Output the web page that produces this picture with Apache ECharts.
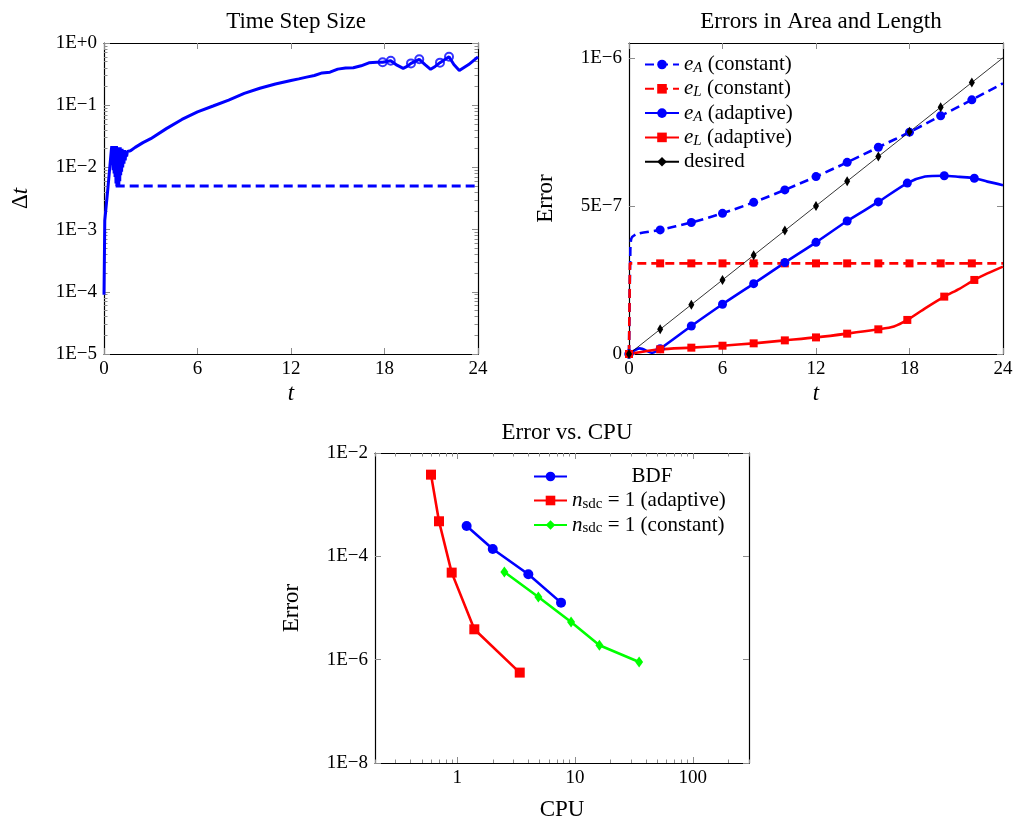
<!DOCTYPE html>
<html><head><meta charset="utf-8">
<script src="https://cdn.jsdelivr.net/npm/echarts@6/dist/echarts.min.js"></script>
<style>html,body{margin:0;padding:0;background:#fff}#c{width:1017px;height:823px}</style>
</head><body><div id="c"></div>
<script>
// ================= DATA =================
// Panel 1: time step size
const dtAdaptive = [[0,9e-5],[0.05,1.4e-3],[0.26,4.9e-3],[0.47,0.019],[0.50,0.022],[0.53,0.011],[0.56,0.022],[0.59,0.009],[0.62,0.022],[0.65,0.008],[0.68,0.022],[0.71,0.007],[0.74,0.022],[0.77,0.0055],[0.80,0.022],[0.83,0.005],[0.86,0.021],[0.89,0.005],[0.92,0.021],[0.95,0.0052],[0.98,0.021],[1.01,0.006],[1.04,0.021],[1.07,0.0075],[1.10,0.020],[1.13,0.0085],[1.16,0.020],[1.20,0.010],[1.24,0.019],[1.28,0.0115],[1.32,0.019],[1.36,0.013],[1.40,0.018],[1.45,0.015],[1.50,0.018],[1.55,0.0172],[1.7,0.0185],[2.0,0.021],[2.5,0.025],[3,0.029],[4,0.042],[5,0.059],[6,0.078],[7,0.097],[8,0.121],[9,0.155],[10,0.187],[11,0.219],[12,0.25],[12.5,0.265],[13,0.283],[13.5,0.30],[14,0.33],[14.5,0.34],[15,0.38],[15.5,0.395],[16,0.40],[16.5,0.43],[17,0.48],[17.5,0.49],[17.88,0.49],[18.4,0.52],[18.8,0.44],[19.2,0.39],[19.45,0.42],[19.7,0.47],[20.23,0.547],[20.6,0.45],[20.96,0.378],[21.25,0.42],[21.56,0.483],[22.14,0.60],[22.45,0.45],[22.8,0.36],[23.4,0.45],[24,0.60]];
const dtConstant = [[0.75,0.005],[24,0.005]];
const dtLoops = [[17.88,0.49],[18.4,0.52],[19.7,0.47],[20.23,0.547],[21.56,0.483],[22.14,0.60]];

// Panel 2: errors in area and length
const eAConst = [[0,0],[0.08,3.3e-7],[0.15,3.9e-7],[0.5,4.05e-7],[2,4.19e-7],[4,4.44e-7],[6,4.75e-7],[8,5.12e-7],[10,5.54e-7],[12,5.99e-7],[14,6.47e-7],[16,6.98e-7],[18,7.49e-7],[20,8.04e-7],[22,8.58e-7],[24,9.14e-7]];
const eLConst = [[0,0],[0.06,3.06e-7],[2,3.06e-7],[4,3.06e-7],[6,3.06e-7],[8,3.06e-7],[10,3.06e-7],[12,3.06e-7],[14,3.06e-7],[16,3.06e-7],[18,3.06e-7],[20,3.06e-7],[22,3.06e-7],[24,3.06e-7]];
const eAAdapt = [[0,0],[0.7,1.9e-8],[1.5,4e-9],[2,1.8e-8],[4,9.46e-8],[6,1.68e-7],[8,2.376e-7],[10,3.086e-7],[12,3.77e-7],[14,4.49e-7],[16,5.135e-7],[17.86,5.77e-7],[19,5.99e-7],[20.23,6.02e-7],[21.2,5.98e-7],[22.16,5.935e-7],[23,5.82e-7],[24,5.70e-7]];
const eLAdapt = [[0,0],[2,1.58e-8],[4,2.14e-8],[6,2.8e-8],[8,3.6e-8],[10,4.6e-8],[12,5.6e-8],[14,6.87e-8],[16,8.33e-8],[17,9.3e-8],[17.86,1.15e-7],[19,1.54e-7],[20.23,1.937e-7],[21.2,2.2e-7],[22.16,2.5e-7],[23,2.72e-7],[24,2.95e-7]];
const desired = [[0,0],[2,8.33e-8],[4,1.667e-7],[6,2.5e-7],[8,3.333e-7],[10,4.167e-7],[12,5e-7],[14,5.833e-7],[16,6.667e-7],[18,7.5e-7],[20,8.333e-7],[22,9.167e-7],[24,1e-6]];
const constMarkT = [0,2,4,6,8,10,12,14,16,18,20,22];
const adaptMarkT = [0,2,4,6,8,10,12,14,16,17.86,20.23,22.16];

// Panel 3: error vs CPU
const bdfCpu = [1.20, 2.0, 4.01, 7.6];
const bdfErr = [3.86e-4, 1.39e-4, 4.49e-5, 1.27e-5];
const sdcAdaptCpu = [0.598, 0.699, 0.896, 1.395, 3.39];
const sdcAdaptErr = [3.81e-3, 4.77e-4, 4.84e-5, 3.87e-6, 5.62e-7];
const sdcConstCpu = [2.51, 4.88, 9.25, 16.1, 35.0];
const sdcConstErr = [4.98e-5, 1.63e-5, 5.36e-6, 1.9e-6, 9.0e-7];

// Tick values / labels
const tTickVals = [0, 6, 12, 18, 24];
const tTickLabels = ['0', '6', '12', '18', '24'];
const dtTickVals = [1e-5, 1e-4, 1e-3, 1e-2, 1e-1, 1];
const dtTickLabels = ['1E\u22125', '1E\u22124', '1E\u22123', '1E\u22122', '1E\u22121', '1E+0'];
const errTickVals = [0, 5e-7, 1e-6];
const errTickLabels = ['0', '5E\u22127', '1E\u22126'];
const cpuTickVals = [1, 10, 100];
const cpuTickLabels = ['1', '10', '100'];
const cpuErrTickVals = [1e-8, 1e-6, 1e-4, 1e-2];
const cpuErrTickLabels = ['1E\u22128', '1E\u22126', '1E\u22124', '1E\u22122'];

// ================= CHART =================
const FONT = 'Liberation Serif';
const BLUE = '#0000ff', RED = '#ff0000', GREEN = '#00ff00';

function minorLog(lo, hi) { // minor tick positions 2..9 x 10^k
  const out = [];
  for (let e = Math.floor(Math.log10(lo)); e <= Math.ceil(Math.log10(hi)); e++) {
    for (let m = 1; m <= 9; m++) {
      const v = m * Math.pow(10, e);
      if (v >= lo * 0.9999 && v <= hi * 1.0001) out.push(v);
    }
  }
  return out;
}
function lookup(vals, labels) {
  return function (v) {
    for (let i = 0; i < vals.length; i++) {
      const x = vals[i];
      if ((x === 0 && Math.abs(v) < 1e-20) || (x !== 0 && Math.abs(v / x - 1) < 1e-6)) return labels[i];
    }
    return '';
  };
}
const tickStyle = { color: '#8c8c8c', width: 1 };
const lineAx = { show: true, onZero: false, lineStyle: { color: '#000', width: 1.2 } };
const labelStyle = { color: '#000', fontFamily: FONT, fontSize: 19 };
const nameStyle = { color: '#000', fontFamily: FONT, fontSize: 23 };

function ax(o) {
  const a = {
    gridIndex: o.grid, type: o.type || 'value', position: o.pos,
    min: o.min, max: o.max,
    axisLine: o.line === false ? { show: false, onZero: false } : lineAx,
    axisTick: { show: true, inside: true, length: o.tickLen || 6, lineStyle: tickStyle },
    axisLabel: { show: false },
    splitLine: { show: false },
    minorTick: { show: false }, minorSplitLine: { show: false },
    silent: true
  };
  if (o.interval != null) a.interval = o.interval;
  if (o.tickVals) a.axisTick.customValues = o.tickVals;
  if (o.labels) {
    a.axisLabel = Object.assign({ show: true, margin: o.pos === 'left' ? 7 : 6,
      formatter: lookup(o.labels[0], o.labels[1]), customValues: o.labelVals }, labelStyle);
    if (!o.labelVals) delete a.axisLabel.customValues;
  }
  if (o.name) {
    a.name = o.name; a.nameLocation = 'middle'; a.nameGap = o.nameGap;
    a.nameTextStyle = Object.assign({}, nameStyle, o.nameStyle || {});
    if (o.pos === 'left') a.nameRotate = 90;
  }
  return a;
}

const xAxes = [
  // grid 0
  ax({ grid: 0, pos: 'bottom', min: 0, max: 24, interval: 6, labels: [tTickVals, tTickLabels], name: 't', nameGap: 28, nameStyle: { fontStyle: 'italic' } }),
  ax({ grid: 0, pos: 'top', min: 0, max: 24, interval: 6 }),
  // grid 1
  ax({ grid: 1, pos: 'bottom', min: 0, max: 24, interval: 6, labels: [tTickVals, tTickLabels], name: 't', nameGap: 28, nameStyle: { fontStyle: 'italic' } }),
  ax({ grid: 1, pos: 'top', min: 0, max: 24, interval: 6 }),
  // grid 2
  ax({ grid: 2, type: 'log', pos: 'bottom', min: 0.2, max: 300, tickVals: cpuTickVals, labels: [cpuTickVals, cpuTickLabels], labelVals: cpuTickVals, name: 'CPU', nameGap: 35 }),
  ax({ grid: 2, type: 'log', pos: 'top', min: 0.2, max: 300, tickVals: cpuTickVals }),
  ax({ grid: 2, type: 'log', pos: 'bottom', min: 0.2, max: 300, tickVals: minorLog(0.2, 300).filter(v => cpuTickVals.indexOf(v) < 0), tickLen: 3.5, line: false }),
  ax({ grid: 2, type: 'log', pos: 'top', min: 0.2, max: 300, tickVals: minorLog(0.2, 300).filter(v => cpuTickVals.indexOf(v) < 0), tickLen: 3.5, line: false })
];
const dtMinor = minorLog(1e-5, 1).filter(v => dtTickVals.every(x => Math.abs(v / x - 1) > 1e-6));
const yAxes = [
  // grid 0
  ax({ grid: 0, type: 'log', pos: 'left', min: 1e-5, max: 1, tickVals: dtTickVals, labels: [dtTickVals, dtTickLabels], labelVals: dtTickVals, name: '{n|\u0394}{i|t}', nameGap: 72,
       nameStyle: { rich: { n: { fontFamily: FONT, fontSize: 23, color: '#000' }, i: { fontFamily: FONT, fontSize: 23, fontStyle: 'italic', color: '#000' } } } }),
  ax({ grid: 0, type: 'log', pos: 'right', min: 1e-5, max: 1, tickVals: dtTickVals }),
  ax({ grid: 0, type: 'log', pos: 'left', min: 1e-5, max: 1, tickVals: dtMinor, tickLen: 3.5, line: false }),
  ax({ grid: 0, type: 'log', pos: 'right', min: 1e-5, max: 1, tickVals: dtMinor, tickLen: 3.5, line: false }),
  // grid 1
  ax({ grid: 1, pos: 'left', min: 0, max: 1.05e-6, tickVals: errTickVals, labels: [errTickVals, errTickLabels], labelVals: errTickVals, name: 'Error', nameGap: 72 }),
  ax({ grid: 1, pos: 'right', min: 0, max: 1.05e-6, tickVals: errTickVals }),
  // grid 2
  ax({ grid: 2, type: 'log', pos: 'left', min: 1e-8, max: 1e-2, tickVals: cpuErrTickVals, labels: [cpuErrTickVals, cpuErrTickLabels], labelVals: cpuErrTickVals, name: 'Error', nameGap: 72 }),
  ax({ grid: 2, type: 'log', pos: 'right', min: 1e-8, max: 1e-2, tickVals: cpuErrTickVals })
];

function marked(pairs, markT) {
  return pairs.map(p => markT.some(m => Math.abs(m - p[0]) < 1e-9) ? { value: p } : { value: p, symbol: 'none' });
}
function zip(a, b) { return a.map((v, i) => [v, b[i]]); }

const richLegend = {
  i: { fontFamily: FONT, fontSize: 21, fontStyle: 'italic', lineHeight: 22, color: '#000' },
  s: { fontFamily: FONT, fontSize: 15, fontStyle: 'italic', lineHeight: 12, verticalAlign: 'bottom', color: '#000' },
  u: { fontFamily: FONT, fontSize: 15, lineHeight: 12, verticalAlign: 'bottom', color: '#000' },
  t: { fontFamily: FONT, fontSize: 21, lineHeight: 22, color: '#000' },
  c: { fontFamily: FONT, fontSize: 21, lineHeight: 22, color: '#000', width: 160, align: 'center' }
};
const legendText = {
  eAc: '{i|e}{s|A}{t| (constant)}',
  eLc: '{i|e}{s|L}{t| (constant)}',
  eAa: '{i|e}{s|A}{t| (adaptive)}',
  eLa: '{i|e}{s|L}{t| (adaptive)}',
  des: '{t|desired}',
  bdf: '{c|BDF}',
  sdcA: '{i|n}{u|sdc}{t| = 1 (adaptive)}',
  sdcC: '{i|n}{u|sdc}{t| = 1 (constant)}'
};

const option = {
  animation: false,
  backgroundColor: '#fff',
  title: [
    { text: 'Time Step Size', left: 291, top: 5, textAlign: 'center', textStyle: { fontFamily: FONT, fontSize: 23, fontWeight: 'normal', color: '#000' } },
    { text: 'Errors in Area and Length', left: 816, top: 5, textAlign: 'center', textStyle: { fontFamily: FONT, fontSize: 23, fontWeight: 'normal', color: '#000' } },
    { text: 'Error vs. CPU', left: 562, top: 416, textAlign: 'center', textStyle: { fontFamily: FONT, fontSize: 23, fontWeight: 'normal', color: '#000' } }
  ],
  grid: [
    { left: 104, top: 43, width: 374, height: 311, containLabel: false, outerBoundsMode: 'none' },
    { left: 629, top: 43, width: 374, height: 311, containLabel: false, outerBoundsMode: 'none' },
    { left: 375, top: 453, width: 374, height: 310, containLabel: false, outerBoundsMode: 'none' }
  ],
  legend: [
    { data: ['eAc', 'eLc', 'eAa', 'eLa', 'des'], orient: 'vertical', left: 644, top: 54, padding: 0,
      itemWidth: 34, itemHeight: 12, itemGap: 2.8, selectedMode: false,
      formatter: n => legendText[n], textStyle: { fontFamily: FONT, fontSize: 21, color: '#000', rich: richLegend } },
    { data: ['bdf', 'sdcA', 'sdcC'], orient: 'vertical', left: 533, top: 466, padding: 0,
      itemWidth: 33, itemHeight: 12, itemGap: 3.0, selectedMode: false,
      formatter: n => legendText[n], textStyle: { fontFamily: FONT, fontSize: 21, color: '#000', rich: richLegend } }
  ],
  xAxis: xAxes,
  yAxis: yAxes,
  series: [
    // panel 1
    { name: 'dtConst', type: 'line', xAxisIndex: 0, yAxisIndex: 0, data: dtConstant, symbol: 'none',
      lineStyle: { color: BLUE, width: 3, type: [9, 5] }, itemStyle: { color: BLUE } },
    { name: 'dtAdapt', type: 'line', xAxisIndex: 0, yAxisIndex: 0, data: dtAdaptive, symbol: 'none',
      lineStyle: { color: BLUE, width: 3 }, itemStyle: { color: BLUE } },
    { name: 'dtLoop', type: 'scatter', xAxisIndex: 0, yAxisIndex: 0, data: dtLoops, symbol: 'emptyCircle', symbolSize: 8,
      itemStyle: { color: BLUE, borderColor: BLUE, borderWidth: 2 } },
    // panel 2
    { name: 'eAc', type: 'line', xAxisIndex: 2, yAxisIndex: 4, data: marked(eAConst, constMarkT), symbol: 'circle', symbolSize: 9, showSymbol: true, smooth: 0.25,
      lineStyle: { color: BLUE, width: 2.6, type: [9, 5] }, itemStyle: { color: BLUE } },
    { name: 'eLc', type: 'line', xAxisIndex: 2, yAxisIndex: 4, data: marked(eLConst, constMarkT), symbol: 'rect', symbolSize: 8, showSymbol: true,
      lineStyle: { color: RED, width: 2.6, type: [9, 5] }, itemStyle: { color: RED } },
    { name: 'eAa', type: 'line', xAxisIndex: 2, yAxisIndex: 4, data: marked(eAAdapt, adaptMarkT), symbol: 'circle', symbolSize: 9, showSymbol: true, smooth: 0.25,
      lineStyle: { color: BLUE, width: 2.6 }, itemStyle: { color: BLUE } },
    { name: 'eLa', type: 'line', xAxisIndex: 2, yAxisIndex: 4, data: marked(eLAdapt, adaptMarkT), symbol: 'rect', symbolSize: 8, showSymbol: true, smooth: 0.25,
      lineStyle: { color: RED, width: 2.6 }, itemStyle: { color: RED } },
    { name: 'des', type: 'line', xAxisIndex: 2, yAxisIndex: 4, data: marked(desired, constMarkT), symbol: 'diamond', symbolSize: [6, 10], showSymbol: true,
      lineStyle: { color: '#000', width: 0.8 }, itemStyle: { color: '#000' } },
    // panel 3
    { name: 'bdf', type: 'line', xAxisIndex: 4, yAxisIndex: 6, data: zip(bdfCpu, bdfErr), symbol: 'circle', symbolSize: 10,
      lineStyle: { color: BLUE, width: 2.6 }, itemStyle: { color: BLUE } },
    { name: 'sdcA', type: 'line', xAxisIndex: 4, yAxisIndex: 6, data: zip(sdcAdaptCpu, sdcAdaptErr), symbol: 'rect', symbolSize: 10,
      lineStyle: { color: RED, width: 2.6 }, itemStyle: { color: RED } },
    { name: 'sdcC', type: 'line', xAxisIndex: 4, yAxisIndex: 6, data: zip(sdcConstCpu, sdcConstErr), symbol: 'diamond', symbolSize: [8, 11],
      lineStyle: { color: GREEN, width: 2.6 }, itemStyle: { color: GREEN } }
  ]
};
const chart = echarts.init(document.getElementById('c'), null, { renderer: 'canvas' });
chart.setOption(option);
</script>
</body></html>
